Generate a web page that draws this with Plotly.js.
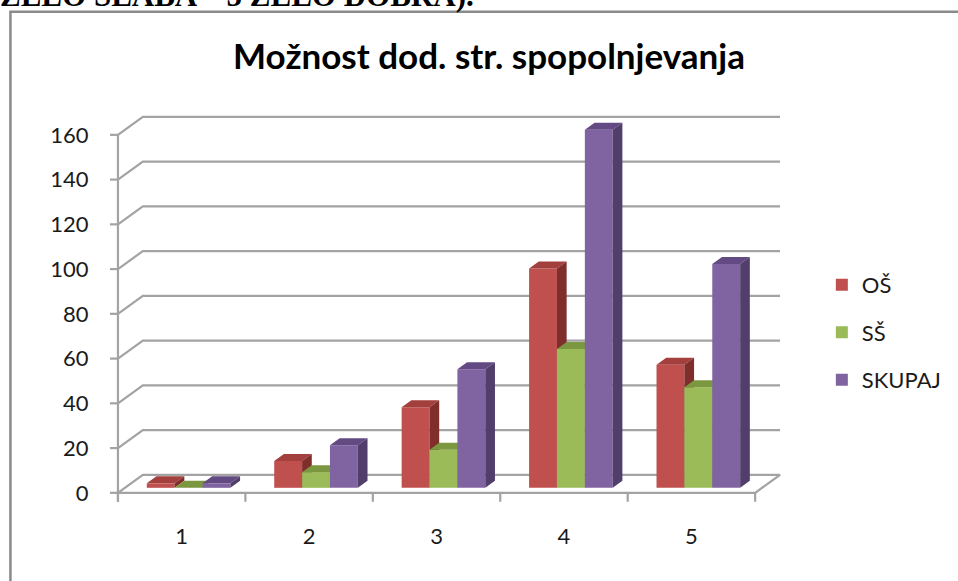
<!DOCTYPE html>
<html>
<head>
<meta charset="utf-8">
<script src="https://cdn.plot.ly/plotly-3.0.1.min.js"></script>
<style>html,body{margin:0;padding:0;background:#fff;overflow:hidden}#chart{width:958px;height:581px}</style>
</head>
<body>
<div id="chart"></div>
<script>
// ---- data ----
const categories = ['1', '2', '3', '4', '5'];
const seriesNames = ['OŠ', 'SŠ', 'SKUPAJ'];
const valuesOS = [2, 12, 36, 98, 55];
const valuesSS = [0, 7, 17, 62, 45];
const valuesSKUPAJ = [2, 19, 53, 160, 100];
const yTicks = [0, 20, 40, 60, 80, 100, 120, 140, 160];
const titleText = 'Možnost dod. str. spopolnjevanja';
const topText = 'ZELO SLABA – 5 ZELO DOBRA).';

// ---- styling / geometry ----
const frontColors = ['#C0504D', '#9BBB59', '#8064A2'];
const topColors = ['#A3403D', '#7B9840', '#634A82'];
const sideColors = ['#7F2E2C', '#6C8836', '#513E6B'];
const gridColor = '#A3A3A3';
const PXX = 128;            // px per category
const PXY = 2.2375;         // px per unit
const DX = 25 / PXX, DY = 18 / PXY;    // depth of the floor
const F0 = 5 / 18, FD = 7 / 18;        // bar placement / bar depth fractions
const W = 28 / PXX;                    // bar width
const base = F0 * DY;
const xs = categories.map((c, i) => i + 1);
const allVals = [valuesOS, valuesSS, valuesSKUPAJ];
const nCat = categories.length;

const traces = [];

// background walls / grid lines
const gx = [], gy = [];
yTicks.forEach(v => {
  if (v === 0) return;
  gx.push(0.5, 0.5 + DX, nCat + 0.5 + DX, null);
  gy.push(v, v + DY, v + DY, null);
});
// floor
gx.push(0.5, 0.5 + DX, nCat + 0.5 + DX, nCat + 0.5, 0.5, null);
gy.push(0, DY, DY, 0, 0, null);
// y axis line and ticks
gx.push(0.5, 0.5, null);
gy.push(yTicks[yTicks.length - 1], -4, null);
yTicks.forEach(v => { gx.push(0.5 - 8 / PXX, 0.5, null); gy.push(v, v, null); });
// x axis ticks at category boundaries
for (let k = 0; k <= nCat; k++) { gx.push(k + 0.5, k + 0.5, null); gy.push(0, -4, null); }
traces.push({type: 'scatter', mode: 'lines', x: gx, y: gy, line: {color: gridColor, width: 2.2},
  hoverinfo: 'skip', showlegend: false, zorder: -10});

allVals.forEach((vals, s) => {
  const off = -1.5 * W + s * W + F0 * DX;
  traces.push({type: 'bar', name: seriesNames[s], x: xs, y: vals, base: base, width: W, offset: off,
    marker: {color: frontColors[s], line: {width: 0}}, legendgroup: 'g' + s, zorder: 3 * s});
  const tx = [], ty = [], sx = [], sy = [];
  const ddx = FD * DX, ddy = FD * DY;
  vals.forEach((v, k) => {
    const xl = xs[k] + off, xr = xl + W, t = base + v;
    tx.push(xl, xr, xr + ddx, xl + ddx, null);
    ty.push(t, t, t + ddy, t + ddy, null);
    sx.push(xr, xr, xr + ddx, xr + ddx, null);
    sy.push(base, t, t + ddy, base + ddy, null);
  });
  traces.push({type: 'scatter', mode: 'lines', x: tx, y: ty, fill: 'toself', fillcolor: topColors[s],
    line: {width: 0, color: topColors[s]}, hoverinfo: 'skip', showlegend: false, zorder: 3 * s + 1});
  traces.push({type: 'scatter', mode: 'lines', x: sx, y: sy, fill: 'toself', fillcolor: sideColors[s],
    line: {width: 0, color: sideColors[s]}, hoverinfo: 'skip', showlegend: false, zorder: 3 * s + 2});
});

// plot area geometry
const yMin = -5, yMax = 172;
const plotBottom = 493 - yMin * PXY;
const plotTop = plotBottom - (yMax - yMin) * PXY;
const xMin = 0.5 - 10 / PXX, xMax = 0.5 + 672 / PXX;
const plotLeft = 118 - 10;
const plotW = (xMax - xMin) * PXX;
const plotH = (yMax - yMin) * PXY;
const px2paperX = p => (p - plotLeft) / plotW;
const px2paperY = p => 1 - (p - plotTop) / plotH;

const layout = {
  width: 958, height: 581,
  margin: {l: plotLeft, r: 958 - plotLeft - plotW, t: plotTop, b: 581 - plotBottom, pad: 0},
  paper_bgcolor: '#fff', plot_bgcolor: 'rgba(0,0,0,0)',
  font: {family: 'Lato, "Open Sans", sans-serif', color: '#1a1a1a'},
  barmode: 'overlay',
  title: {text: titleText, font: {family: 'Lato, sans-serif', size: 35, color: '#000', weight: 'bold'},
    xref: 'container', yref: 'container', x: 489 / 958, xanchor: 'center', y: 1 - 57 / 581, yanchor: 'middle'},
  xaxis: {range: [xMin, xMax], tickmode: 'array', tickvals: xs, ticktext: categories, showgrid: false,
    zeroline: false, showline: false, ticks: 'outside', ticklen: 13, tickcolor: 'rgba(0,0,0,0)',
    tickfont: {size: 22, color: '#1a1a1a'}, fixedrange: true},
  yaxis: {range: [yMin, yMax], tickmode: 'array', tickvals: yTicks, ticktext: yTicks.map(String),
    showgrid: false, zeroline: false, showline: false, ticks: 'outside', ticklen: 14,
    tickcolor: 'rgba(0,0,0,0)', tickfont: {size: 22, color: '#1a1a1a'}, fixedrange: true},
  showlegend: true,
  legend: {x: px2paperX(825), xanchor: 'left', y: px2paperY(264), yanchor: 'top',
    traceorder: 'grouped', tracegroupgap: 16, font: {size: 22, color: '#1a1a1a'},
    bgcolor: 'rgba(0,0,0,0)', borderwidth: 0},
  shapes: [
    {type: 'rect', xref: 'paper', yref: 'paper', x0: px2paperX(10), x1: px2paperX(975),
      y0: px2paperY(600), y1: px2paperY(12), line: {color: '#8a8a8a', width: 2.5}, fillcolor: 'rgba(0,0,0,0)', layer: 'below'}
  ],
  annotations: [
    {text: topText, xref: 'paper', yref: 'paper', x: px2paperX(-2), xanchor: 'left',
      y: px2paperY(-4), yanchor: 'middle', showarrow: false,
      font: {family: '"Liberation Serif", "Times New Roman", serif', size: 31, color: '#000', weight: 'bold'}}
  ]
};

Plotly.newPlot('chart', traces, layout, {displayModeBar: false, staticPlot: true});
</script>
</body>
</html>
